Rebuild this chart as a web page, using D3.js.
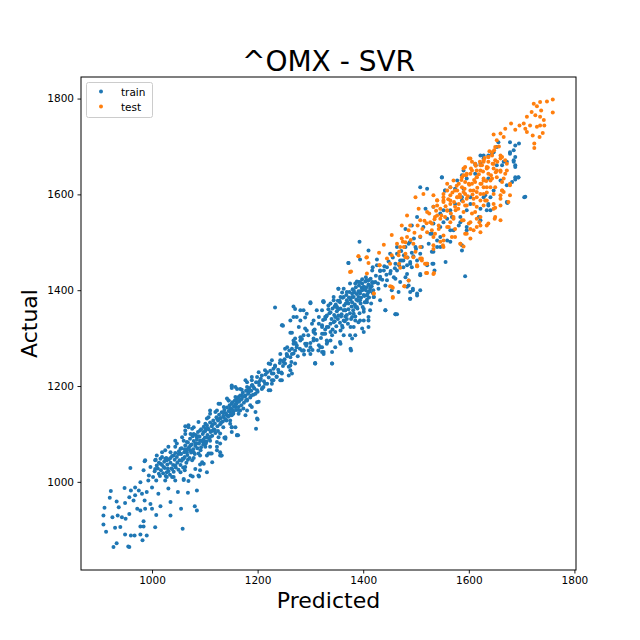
<!DOCTYPE html>
<html>
<head>
<meta charset="utf-8">
<script src="https://cdn.jsdelivr.net/npm/d3@7"></script>
<style>
  body { margin: 0; background: #fff; }
  text { font-family: "DejaVu Sans", sans-serif; fill: #000; }
</style>
</head>
<body>
<div id="chart"></div>
<script>
// values: [predicted, actual]
var trainLow = [
  [927,864],[933,872],[955,865],[957,864],[949,890],[960,888],[967,888],[978,890],[982,878],[990,888],
  [1058,902],[1006,905],[984,907],[978,907],[984,918],[940,906],[930,904],[913,896],[908,911],[908,930],
  [910,946],[920,967],[922,981],[933,959],[937,947],[925,926],[935,930],[943,926],[950,923],[957,933],
  [949,956],[957,968],[965,961],[960,982],[948,987],[968,988],[975,982],[972,944],[978,940],[987,944],
  [986,961],[997,954],[1000,944],[1008,931],[1016,949],[1035,930],[1055,944],[1035,958],[1049,979],[1068,977],
  [1085,982],[1081,949],[1085,940],[959,1029],[986,1043],[1007,1046],[978,999],[993,1003],[1000,988],[1012,975],
  [990,979],[981,975],[968,972],[1006,1027],[1016,1038],[1025,1048],[1028,1020],[1038,1010],[1044,1003],[1025,1003],
  [1031,986],[1060,1004],[1069,1002],[1077,1011],[1089,1011],[1062,1024],[1091,1036],[1098,1038],[1129,1062],[1131,1055],
  [1110,1059],[1123,1066],[1163,1097],[1137,1092],[1151,1114],[1126,1093],[1113,1106],[1101,1111],[1063,1116],[1076,1111],
  [1044,1086],[1031,1073],[1019,1062],[1009,1055],[1016,1048]
];
var trainBand = [
  [1151,1199],[1161,1194],[1142,1174],[1151,1163],[1161,1170],[1136,1156],[1148,1146],[1126,1163],[1120,1146],[1110,1149],
  [1107,1135],[1123,1132],[1136,1135],[1148,1128],[1158,1114],[1151,1104],[1161,1097],[1139,1090],[1129,1101],[1117,1107],
  [1101,1121],[1088,1125],[1091,1107],[1079,1114],[1069,1118],[1063,1107],[1073,1100],[1085,1093],[1104,1093],[1098,1083],
  [1110,1073],[1123,1083],[1082,1080],[1066,1083],[1057,1093],[1047,1080],[1054,1069],[1066,1062],[1079,1062],[1091,1055],
  [1107,1059],[1129,1055],[1114,1041],[1095,1041],[1076,1045],[1060,1048],[1041,1055],[1035,1062],[1025,1066],[1019,1052],
  [1028,1045],[1044,1034],[1063,1031],[1082,1027],[1088,1013],[1073,1013],[1054,1020],[1038,1027],[1022,1031],[1009,1034],
  [1006,1045],[997,1031],[987,1045],[984,1024],[994,1013],[1013,1017],[1028,1010],[1041,1010],[1060,1006],[1091,1024],
  [1104,1020],
  [1044,1073],[1053,1059],[1072,1066],[1088,1059],[1101,1073],[1110,1086],[1104,1055],[1098,1104],[1091,1086],[1079,1100],
  [1069,1114],[1063,1100],[1060,1086],[1132,1055],[1113,1059],[1123,1073],[1129,1080],[1139,1093],[1161,1097],[1135,1114],
  [1151,1114],[1148,1121],[1129,1132],[1104,1132],[1110,1142],[1123,1149],[1129,1163],[1142,1139],[1154,1142],[1167,1149],
  [1180,1149],[1189,1156],[1199,1166],[1200,1130],[1197,1111],[1145,1170],[1158,1170],[1164,1177],[1177,1180],[1170,1192],
  [1151,1196],[1180,1208],[1189,1201],[1199,1191],[1189,1219],[1211,1198],[1205,1212],[1202,1229],[1224,1191],[1227,1205],
  [1236,1219],[1218,1229],[1230,1236],[1224,1246],[1246,1212],[1259,1222],[1265,1226],[1262,1243],[1249,1250],[1243,1267],
  [1255,1267],[1274,1281],[1287,1274],[1300,1281],[1315,1274],[1325,1271],[1309,1248],[1331,1288],[1262,1311],[1271,1299],
  [1287,1306],[1306,1313],[1322,1309],[1334,1323],[1328,1344],[1312,1358],[1290,1343],[1274,1344],[1281,1358],[1246,1327],
  [1233,1364],[1268,1366],[1300,1373],[1324,1377],
  [1247,1327],[1265,1311],[1268,1295],[1281,1302],[1293,1316],[1303,1330],[1309,1309],[1322,1327],[1328,1309],[1341,1306],
  [1306,1295],[1316,1285],[1290,1288],[1274,1285],[1265,1278],[1284,1274],[1297,1274],[1322,1271],[1341,1271],[1341,1247],
  [1309,1247],[1252,1278],[1243,1254],[1256,1264],[1265,1267],[1271,1247],[1252,1247],[1262,1233],[1227,1254],[1233,1243],
  [1221,1247],[1214,1233],[1227,1226],[1240,1229],[1243,1212],[1230,1212],[1208,1222],[1199,1219],[1189,1212],[1202,1208],
  [1214,1205],[1221,1191],[1208,1194],[1192,1198],[1180,1198],[1177,1212],[1167,1194],[1158,1198],[1151,1201],[1183,1187],
  [1196,1184],[1170,1180],[1158,1177],[1145,1170],[1164,1167],[1180,1170],[1202,1167],[1186,1160],[1173,1153],[1158,1156],
  [1148,1153],[1196,1146],[1177,1139],[1164,1142],[1151,1139],[1199,1132]
];
// core of the band where single dots merge
var trainCore = [
  [1002,1010],[1005,1022],[1008,1003],[1011,1028],[1013,1040],[1015,1012],[1017,1024],[1019,1035],[1021,1018],[1023,1042],
  [1024,1029],[1026,1012],[1027,1050],[1029,1036],[1031,1022],[1032,1047],[1034,1015],[1035,1040],[1037,1028],[1038,1054],
  [1040,1035],[1041,1021],[1043,1046],[1044,1060],[1045,1030],[1047,1052],[1048,1040],[1050,1025],[1051,1064],[1052,1045],
  [1054,1035],[1055,1058],[1056,1070],[1058,1048],[1059,1030],[1061,1062],[1062,1052],[1063,1076],[1065,1040],[1066,1068],
  [1067,1056],[1068,1082],[1070,1072],[1071,1050],[1072,1090],[1074,1061],[1075,1078],[1077,1095],[1078,1068],[1079,1085],
  [1081,1058],[1082,1075],[1083,1098],[1085,1088],[1086,1070],[1087,1104],[1089,1080],[1090,1094],[1092,1066],[1093,1110],
  [1094,1085],[1096,1100],[1097,1078],[1098,1115],[1100,1092],[1101,1106],[1103,1084],[1104,1118],[1105,1098],[1107,1110],
  [1108,1090],[1110,1124],[1111,1104],[1113,1116],[1114,1096],[1116,1128],[1117,1110],[1119,1122],[1120,1102],[1122,1135],
  [1124,1116],[1125,1128],[1127,1140],[1129,1120],[1130,1133],[1132,1145],[1134,1126],[1135,1138],[1137,1150],[1139,1130],
  [1140,1143],[1142,1155],[1144,1136],[1145,1148],[1147,1160],[1149,1140],[1150,1153],[1152,1166],[1154,1146],[1155,1158],
  [1157,1170],[1159,1150],[1160,1163],[1162,1175],[1164,1156],[1165,1168],[1167,1180],[1169,1160],[1170,1173],[1172,1186],
  [1174,1165],[1176,1178],[1178,1190],[1180,1172],[1182,1184],[1184,1196],[1186,1176],[1188,1190],[1190,1202],[1192,1182],
  [1194,1195],[1197,1208],[1200,1188],[1203,1202],[1206,1215],[1209,1196],[1212,1210],[1215,1224],[1218,1205],[1221,1218],
  [1224,1232],[1227,1212],[1230,1226],[1233,1240],[1236,1220],[1239,1234],[1242,1248],[1245,1228],[1248,1242],[1251,1256],
  [1256,1262],[1260,1274],[1264,1250],[1268,1268],[1272,1290],[1276,1262],[1280,1278],[1284,1298],[1288,1266],[1292,1284],
  [1296,1306],[1300,1290],[1304,1275],[1308,1318],[1312,1296],[1316,1330],[1320,1300],[1324,1338],[1328,1318],[1332,1292],
  [1336,1352],[1340,1340],[1342,1362],[1345,1348],[1348,1370],[1350,1356],[1352,1340],[1355,1378],[1357,1362],[1359,1350],
  [1361,1384],[1364,1368],[1366,1345],[1368,1390],[1370,1374],[1372,1360],[1374,1396],[1376,1380],[1378,1366],[1380,1402],
  [1382,1386],[1384,1370],[1386,1406],[1388,1392],[1390,1378],[1392,1410],[1394,1398],[1396,1384],[1398,1414],[1400,1402],
  [1402,1388],[1404,1418],[1406,1406],[1408,1392],[1410,1412],[1412,1398],[1414,1424],[1416,1408],[1418,1394],[1420,1416],
  [1424,1430],[1428,1414],[1432,1440],[1436,1422],[1440,1450],[1444,1432],[1448,1460],[1452,1440],[1456,1468],[1460,1446],
  [1464,1476],[1468,1452],[1472,1482],[1476,1462],[1480,1490],[1484,1468],[1488,1500],[1492,1478],[1496,1508],[1500,1486],
  [1050,1058],[1056,1044],[1062,1068],[1068,1046],[1073,1076],[1079,1050],[1084,1080],[1088,1095],[1093,1072],[1097,1088],
  [1102,1080],[1106,1112],[1111,1094],[1115,1120],[1119,1108],[1125,1106],[1131,1124],[1136,1145],[1141,1128],[1146,1138],
  [1153,1150],[1158,1162],[1163,1150],[1168,1172],[1173,1178],[1178,1170],[1183,1192],[1188,1180],[1035,1050],[1030,1028]
];
// thick blob around 1340-1420
var trainCluster = [
  [1338,1330],[1342,1318],[1346,1335],[1349,1325],[1353,1360],[1356,1332],[1358,1345],[1361,1322],[1363,1358],[1365,1335],
  [1367,1372],[1369,1348],[1371,1330],[1373,1385],[1375,1352],[1377,1340],[1379,1375],[1381,1358],[1383,1395],[1385,1345],
  [1387,1380],[1389,1362],[1391,1398],[1393,1352],[1395,1372],[1397,1405],[1399,1365],[1401,1390],[1403,1375],[1405,1400],
  [1407,1380],[1409,1420],[1411,1385],[1413,1408],[1415,1372],[1417,1415],[1419,1400],[1405,1427],[1398,1423],[1388,1418],
  [1360,1395],[1352,1378],[1346,1366],[1330,1345],[1334,1360]
];
var trainMid = [
  [1393,1501],[1372,1457],[1394,1464],[1410,1483],[1426,1464],[1418,1448],[1432,1441],[1445,1448],[1461,1455],[1470,1462],
  [1451,1476],[1464,1490],[1458,1427],[1483,1434],[1492,1448],[1502,1462],[1521,1455],[1533,1455],[1540,1490],[1530,1480],
  [1508,1476],[1495,1471],[1486,1410],[1494,1400],[1489,1382],[1461,1350],[1442,1358],[1432,1424],[1417,1417],[1406,1420],
  [1391,1417],[1398,1400],[1410,1396],[1420,1386],[1404,1375],[1391,1386],[1375,1414],[1379,1393],[1369,1379],[1357,1386],
  [1363,1403],[1353,1403],[1344,1386],[1338,1372],[1325,1377],[1350,1365],[1366,1358],[1385,1365],[1401,1355],[1410,1337],
  [1394,1337],[1379,1344],[1363,1337],[1347,1344],[1331,1347],[1322,1358],[1316,1344],[1306,1337],[1300,1375],[1293,1351],
  [1287,1358],[1281,1337],[1271,1361],[1268,1344],[1262,1337],[1248,1326],[1278,1323],[1290,1320],[1306,1316],[1322,1323],
  [1338,1313],[1357,1316],[1375,1306],[1382,1323],[1398,1320],[1410,1323],[1377,1274],[1357,1288],[1347,1281],[1331,1295],
  [1319,1281],[1306,1299],[1293,1288],[1281,1295],[1268,1288],[1256,1281],[1271,1274],[1287,1274],[1300,1267],[1309,1247],
  [1341,1247],[1325,1267],[1259,1240],[1249,1253],[1246,1226],[1262,1260],
  [1372,1457],[1417,1441],[1426,1452],[1439,1441],[1451,1435],[1464,1441],[1476,1448],[1489,1455],[1432,1428],[1445,1421],
  [1461,1424],[1470,1417],[1423,1417],[1410,1421],[1401,1407],[1413,1403],[1429,1403],[1442,1410],[1454,1400],[1467,1396],
  [1483,1407],[1489,1396],[1508,1431],[1521,1452],[1502,1389],[1489,1382],[1394,1417],[1385,1414],[1382,1400],[1394,1393],
  [1407,1389],[1420,1386],[1432,1379],[1407,1375],[1394,1379],[1379,1386],[1369,1396],[1363,1386],[1353,1403],[1356,1375],
  [1372,1372],[1388,1365],[1401,1361],[1413,1358],[1382,1351],[1366,1358],[1350,1365],[1344,1379],[1334,1368],[1325,1375],
  [1338,1354],[1353,1347],[1369,1340],[1385,1337],[1401,1337],[1410,1344],[1442,1358],[1461,1350],[1464,1350],[1502,1393],
  [1508,1400],[1328,1340],[1344,1333],[1360,1326],[1376,1323],[1391,1333],[1401,1313],[1385,1306],[1331,1323],[1347,1313],
  [1363,1306],[1325,1309],[1338,1295],[1356,1292],[1379,1299],[1322,1281],[1376,1278]
];
var trainHigh = [
  [1656,1709],[1653,1699],[1678,1709],[1688,1702],[1695,1706],[1685,1692],[1678,1688],[1688,1678],[1685,1668],[1688,1657],
  [1694,1635],[1688,1631],[1672,1668],[1663,1661],[1647,1688],[1637,1681],[1622,1681],[1628,1675],[1612,1664],[1590,1650],
  [1587,1640],[1596,1633],[1612,1643],[1637,1633],[1660,1629],[1672,1619],[1647,1608],[1631,1598],[1637,1580],[1641,1567],
  [1622,1570],[1603,1594],[1587,1587],[1574,1612],[1565,1615],[1555,1608],[1549,1635],[1574,1580],[1596,1567],[1584,1553],
  [1568,1553],[1559,1549],[1546,1560],[1533,1574],[1518,1570],[1508,1615],[1521,1612],[1552,1567],[1705,1594],[1673,1582],
  [1596,1525],[1581,1535],[1565,1525],[1546,1532],[1533,1539],[1514,1532],[1502,1553],[1492,1535],[1480,1528],[1508,1511],
  [1527,1518],[1546,1511],[1559,1504],[1524,1497],[1511,1490],[1499,1490],[1486,1497],[1477,1473],[1489,1459],[1483,1452],
  [1473,1462],[1480,1427],[1486,1420],[1508,1434],[1531,1455],[1535,1441],[1556,1459],[1587,1494],[1587,1483],[1593,1429],
  [1494,1403],[1533,1480],[1546,1490],
  [1549,1636],[1555,1608],[1578,1629],[1590,1612],[1628,1594],[1634,1567],[1637,1577],[1672,1584],[1688,1636],[1694,1636],
  [1707,1595],[1682,1626],[1641,1594],[1603,1580],[1587,1594],[1565,1567],[1584,1542],[1622,1546],[1619,1553],[1596,1532],
  [1552,1542],[1571,1525],[1540,1504],[1565,1501],[1530,1518],[1678,1685],[1685,1671],[1688,1661],[1653,1661],[1644,1685],
  [1628,1681],[1622,1664],[1613,1661],[1666,1668]
];
var testPoints = [
  [1375,1438],[1391,1471],[1406,1468],[1410,1457],[1430,1478],[1439,1495],[1431,1452],[1451,1455],[1454,1407],[1420,1393],
  [1456,1386],[1478,1408],[1486,1420],[1502,1450],[1511,1462],[1517,1455],[1534,1436],[1467,1473],[1470,1490],[1475,1501],
  [1454,1515],[1464,1497],
  [1391,1471],[1407,1469],[1431,1452],[1445,1466],[1454,1473],[1468,1455],[1470,1447],[1480,1476],[1483,1468],[1499,1480],
  [1511,1466],[1502,1450],[1519,1455],[1519,1436],[1407,1435],[1377,1439],[1420,1393],[1451,1408],[1456,1405],[1478,1408],
  [1456,1384],
  [1759,1798],[1748,1794],[1735,1793],[1723,1789],[1729,1784],[1737,1775],[1759,1771],[1719,1772],[1710,1762],[1726,1765],
  [1735,1762],[1742,1755],[1735,1744],[1743,1744],[1729,1741],[1716,1744],[1704,1748],[1696,1744],[1707,1737],[1710,1730],
  [1721,1723],[1740,1728],[1734,1720],[1724,1706],[1724,1697],[1688,1735],[1680,1748],[1669,1737],[1660,1727],[1647,1725],
  [1666,1720],[1653,1713],[1650,1699],[1644,1688],[1637,1678],[1628,1671],[1606,1668],[1622,1661],[1634,1657],[1647,1664],
  [1660,1675],[1669,1671],[1660,1647],[1672,1650],[1666,1633],[1678,1619],[1663,1608],[1660,1591],[1647,1580],[1650,1572],
  [1649,1549],[1634,1535],[1622,1553],[1620,1542],[1615,1532],[1603,1528],[1600,1539],[1622,1521],[1593,1518],[1584,1497],
  [1590,1491],[1574,1511],[1559,1532],[1552,1504],[1551,1494],[1533,1511],[1521,1521],[1533,1486],[1521,1455],[1508,1466],
  [1502,1452],[1521,1436],[1533,1434],[1495,1497],[1483,1511],[1477,1490],[1480,1469],[1495,1469],[1508,1490],[1499,1594],
  [1514,1601],[1533,1598],[1540,1587],[1505,1570],[1521,1563],[1536,1553],[1483,1556],[1473,1535],[1489,1535],[1508,1546],
  [1527,1542],[1546,1549],[1565,1542],[1571,1553],[1590,1546],[1559,1566],[1574,1574],[1593,1577],[1609,1580],[1631,1587],
  [1628,1577],[1612,1563],[1559,1622],[1571,1629],[1587,1636],[1596,1643],[1606,1650],[1615,1636],[1628,1629],[1641,1615],
  [1634,1604],[1622,1601],[1609,1608],[1593,1601],[1578,1594],[1565,1587],[1552,1594],[1587,1615],[1600,1622],[1612,1626],
  [1628,1615],[1593,1657],[1615,1650],[1637,1643],[1653,1650],[1644,1633],[1559,1608],[1574,1608],[1584,1594],[1615,1594],
  [1590,1654],[1600,1675],[1644,1681],[1660,1681],[1625,1661],[1637,1668],[1552,1587],[1540,1577],
  [1603,1675],[1612,1664],[1628,1668],[1637,1678],[1650,1671],[1663,1678],[1672,1664],[1622,1650],[1634,1654],[1647,1654],
  [1660,1650],[1669,1643],[1590,1640],[1603,1643],[1615,1636],[1628,1633],[1641,1629],[1653,1636],[1663,1626],[1678,1622],
  [1581,1622],[1593,1626],[1606,1622],[1622,1622],[1634,1615],[1650,1615],[1663,1608],[1565,1615],[1578,1608],[1590,1605],
  [1603,1608],[1615,1605],[1628,1601],[1647,1601],[1660,1598],[1666,1605],[1552,1601],[1565,1598],[1578,1594],[1596,1591],
  [1609,1591],[1622,1587],[1634,1587],[1540,1588],[1552,1584],[1565,1580],[1581,1580],[1596,1577],[1615,1574],[1533,1574],
  [1546,1570],[1559,1567],[1575,1567],[1590,1563],[1606,1560],[1540,1556],[1555,1553],[1571,1549],[1587,1546],[1603,1542],
  [1615,1549],[1622,1535],[1609,1525],[1596,1518],[1603,1508],[1530,1539],[1543,1535],[1562,1532],[1574,1528],[1536,1518],
  [1552,1514],[1568,1511],[1546,1501],[1533,1494],[1552,1490],[1584,1497],[1637,1539],[1650,1553],[1660,1546],[1647,1570],
  [1660,1577],[1675,1584],[1678,1598]
];
// core of the orange cluster
var testCore = [
  [1556,1575],[1561,1590],[1566,1560],[1569,1604],[1572,1584],[1577,1618],[1580,1570],[1583,1600],[1586,1630],[1589,1585],
  [1592,1612],[1595,1640],[1598,1596],[1601,1620],[1604,1654],[1607,1600],[1610,1630],[1613,1660],[1616,1614],[1619,1642],
  [1621,1668],[1624,1622],[1627,1648],[1630,1676],[1633,1628],[1636,1656],[1639,1690],[1642,1640],[1645,1664],[1648,1692],
  [1651,1646],[1654,1668],[1657,1700],[1520,1540],[1525,1560],[1530,1525],[1535,1548],[1538,1566],[1543,1528],[1548,1556],
  [1497,1520],[1503,1535],[1508,1512],[1512,1528],[1516,1545],[1490,1505],[1486,1525],[1480,1500],[1468,1480],[1473,1508]
];
var trainPoints = trainLow.concat(trainBand, trainCore, trainCluster, trainMid, trainHigh);
var testAll = testPoints.concat(testCore);

var xTicks = [1000, 1200, 1400, 1600, 1800];
var yTicks = [1000, 1200, 1400, 1600, 1800];
var seriesNames = ["train", "test"];
var seriesColors = ["#1f77b4", "#ff7f0e"];

var width = 640, height = 640;
var margin = {left: 81, right: 64, top: 77, bottom: 70};

var svg = d3.select("#chart").append("svg")
  .attr("width", width)
  .attr("height", height);

var x = d3.scaleLinear().domain([865.5, 1803]).range([margin.left, width - margin.right]);
var y = d3.scaleLinear().domain([816, 1845]).range([height - margin.bottom, margin.top]);

//points: train first, test on top
var sets = [trainPoints, testAll];
sets.forEach(function (pts, i) {
  svg.append("g").selectAll("circle")
    .data(pts)
    .enter().append("circle")
    .attr("cx", d => x(d[0]))
    .attr("cy", d => y(d[1]))
    .attr("r", 2)
    .attr("fill", seriesColors[i]);
});

//axes
var xAxis = svg.append("g")
  .attr("transform", `translate(0,${height - margin.bottom})`)
  .call(d3.axisBottom(x).tickValues(xTicks).tickFormat(d3.format("d")).tickSize(3.5).tickPadding(3.5).tickSizeOuter(0));
var yAxis = svg.append("g")
  .attr("transform", `translate(${margin.left},0)`)
  .call(d3.axisLeft(y).tickValues(yTicks).tickFormat(d3.format("d")).tickSize(3.5).tickPadding(3.5).tickSizeOuter(0));
[xAxis, yAxis].forEach(function (a) {
  a.selectAll("text").style("font-size", "10.5px").style("font-family", "DejaVu Sans");
  a.select(".domain").remove();
  a.selectAll("line").attr("stroke-width", 0.9);
});

//frame
svg.append("rect")
  .attr("x", margin.left)
  .attr("y", margin.top)
  .attr("width", width - margin.left - margin.right)
  .attr("height", height - margin.top - margin.bottom)
  .attr("fill", "none")
  .attr("stroke", "#000")
  .attr("stroke-width", 1);

//title and labels
svg.append("text")
  .attr("x", (margin.left + width - margin.right) / 2)
  .attr("y", 71)
  .attr("text-anchor", "middle")
  .style("font-size", "28px")
  .text("^OMX - SVR");

svg.append("text")
  .attr("x", (margin.left + width - margin.right) / 2)
  .attr("y", 608)
  .attr("text-anchor", "middle")
  .style("font-size", "22px")
  .text("Predicted");

svg.append("text")
  .attr("transform", `translate(37,${(margin.top + height - margin.bottom) / 2}) rotate(-90)`)
  .attr("text-anchor", "middle")
  .style("font-size", "22px")
  .text("Actual");

//legend
var legend = svg.append("g");
legend.append("rect")
  .attr("x", 86.5).attr("y", 82.5)
  .attr("width", 66).attr("height", 35)
  .attr("rx", 2)
  .attr("fill", "#fff")
  .attr("fill-opacity", 0.8)
  .attr("stroke", "#ccc");
seriesNames.forEach(function (name, i) {
  legend.append("circle")
    .attr("cx", 101)
    .attr("cy", 91.5 + i * 15)
    .attr("r", 2)
    .attr("fill", seriesColors[i]);
  legend.append("text")
    .attr("x", 121)
    .attr("y", 95.5 + i * 15)
    .style("font-size", "10.5px")
    .text(name);
});
</script>
</body>
</html>
